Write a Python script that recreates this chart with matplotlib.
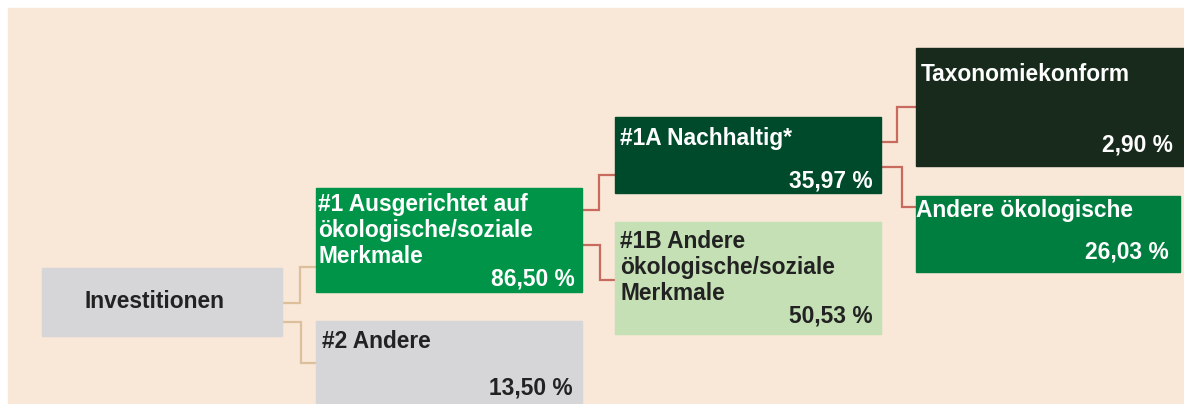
import matplotlib.pyplot as plt
from matplotlib.patches import Rectangle

plt.rcParams['font.family'] = ['Liberation Sans', 'DejaVu Sans']

# tree data
titles = [
    'Investitionen',
    '#1 Ausgerichtet auf\nökologische/soziale\nMerkmale',
    '#2 Andere',
    '#1A Nachhaltig*',
    '#1B Andere\nökologische/soziale\nMerkmale',
    'Taxonomiekonform',
    'Andere ökologische',
]
shares = [None, 86.50, 13.50, 35.97, 50.53, 2.90, 26.03]

# layout in pixels (x0, y0, x1, y1)
boxes = [
    (42, 268, 282, 336),
    (316, 188, 582, 292),
    (316, 321, 582, 410),
    (615, 117, 881, 193),
    (615, 222, 881, 334),
    (916, 48, 1184, 166),
    (916, 196, 1180, 272),
]
fills = ['#d6d6d8', '#009448', '#d6d6d8', '#004a2c', '#c4e0b4', '#172a1b', '#007e3f']
text_colors = ['#222222', 'white', '#222222', 'white', '#222222', 'white', 'white']
title_pos = [(155, 302), (318, 203), (322, 340), (620, 137), (620, 240), (921, 73), (916, 209)]
value_pos = [None, (575, 279), (573, 388), (873, 181), (873, 316), (1173, 145), (1169, 252)]

# connector elbows: (start x, start y, bend x, end y, end x)
links = [
    (282, 303, 300, 267, 316),
    (282, 322, 301, 363, 316),
    (582, 210, 599, 175, 615),
    (582, 245, 600, 280, 615),
    (881, 142, 897, 107, 916),
    (881, 167, 902, 207, 916),
]
link_colors = ['#dcc09c', '#dcc09c', '#c96a5e', '#c96a5e', '#c96a5e', '#c96a5e']

fig = plt.figure(figsize=(11.84, 4.04), dpi=100)
ax = fig.add_axes([0, 0, 1, 1])
ax.set_xlim(0, 1184)
ax.set_ylim(404, 0)
ax.axis('off')

ax.add_patch(Rectangle((8, 8), 1184 - 8, 404 - 8, color='#f9e7d8', zorder=0))

for (x0, y0, bx, y1, x1), c in zip(links, link_colors):
    ax.plot([x0, bx, bx, x1], [y0, y0, y1, y1], color=c, lw=1.6, zorder=1,
            solid_joinstyle='miter')

for i, (x0, y0, x1, y1) in enumerate(boxes):
    ax.add_patch(Rectangle((x0, y0), x1 - x0, y1 - y0, color=fills[i], zorder=2))
    tx, ty = title_pos[i]
    if i == 0:
        ax.text(tx, ty, titles[i], ha='center', va='center', fontsize=16.4,
                fontweight='bold', color=text_colors[i], zorder=3)
    else:
        ax.text(tx, ty - 10, titles[i], ha='left', va='top', fontsize=16.4,
                fontweight='bold', color=text_colors[i], linespacing=1.17, zorder=3)
    if shares[i] is not None:
        vx, vy = value_pos[i]
        label = f'{shares[i]:.2f}'.replace('.', ',') + ' %'
        ax.text(vx, vy, label, ha='right', va='center', fontsize=16.4,
                fontweight='bold', color=text_colors[i], zorder=3)

fig.savefig('out.png', dpi=100)
